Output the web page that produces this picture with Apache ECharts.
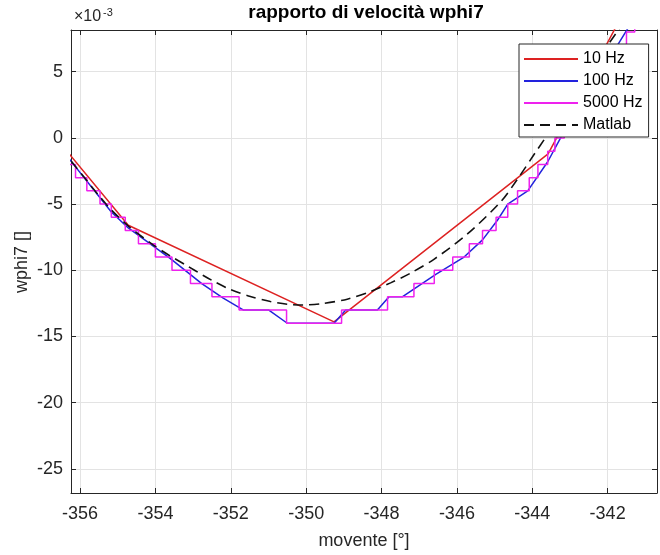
<!DOCTYPE html>
<html><head><meta charset="utf-8">
<script src="https://cdn.jsdelivr.net/npm/echarts@6/dist/echarts.min.js"></script>
<style>html,body{margin:0;padding:0;background:#fff}#c{width:660px;height:555px}</style>
</head><body><div id="c"></div>
<script>
// ---- data (values in units of 1e-3) ----
const xTicks = [-356, -354, -352, -350, -348, -346, -344, -342];
const yTicks = [-25, -20, -15, -10, -5, 0, 5];
const xRange = [-356.24, -340.69];
const yRange = [-26.82, 8.15];

const seriesNames = ['10 Hz', '100 Hz', '5000 Hz', 'Matlab'];

const redX = [-360.13, -354.72, -349.26, -343.58, -338.0];
const redY = [12.0, -6.6, -13.9, -1.2, 28.5];

const blueX = [-356.45, -355.17, -354.72, -353.61, -352.77, -352.20, -351.66, -350.99, -350.50, -349.26, -348.95, -348.11, -347.80, -347.45, -346.56, -345.81, -345.32, -344.92, -344.65, -344.12, -343.59, -343.23, -341.50, -340.90];
const blueY = [-1.0, -5.6, -6.8, -9.1, -11.0, -12.1, -13, -13, -14, -14, -13, -13, -12, -12, -10.3, -9.0, -7.7, -6.2, -5.0, -4.0, -1.8, 0.1, 8.1, 10.9];

const magX = [-356.5, -356.12, -355.82, -355.47, -355.17, -354.80, -354.45, -354.00, -353.56, -353.07, -352.50, -351.78, -350.52, -349.06, -347.84, -347.14, -346.60, -346.11, -345.67, -345.32, -344.96, -344.65, -344.39, -344.08, -343.85, -343.59, -343.40, -343.15, -342.90, -342.65, -342.40, -342.17, -341.95, -341.72, -341.50, -341.28, -340.5];
const magY = [-2, -3, -4, -5, -6, -7, -8, -9, -10, -11, -12, -13, -14, -13, -12, -11, -10, -9, -8, -7, -6, -5, -4, -3, -2, -1, 0, 1, 2, 3, 4, 5, 6, 7, 8, 9, 9];

const matX = [-356.5, -356.19, -355.8, -355.5, -355.17, -354.7, -354.06, -353.61, -353.17, -352.73, -352.42, -352.01, -351.48, -350.95, -350.5, -350.1, -349.62, -348.91, -348.29, -347.76, -347.22, -346.60, -345.72, -344.83, -344.39, -343.94, -343.63, -343.0, -342.5, -341.95, -341.5];
const matY = [-0.8, -1.91, -3.3, -4.35, -5.44, -6.7, -8.08, -8.91, -9.64, -10.39, -10.88, -11.45, -11.98, -12.36, -12.56, -12.62, -12.53, -12.18, -11.6, -10.95, -10.2, -9.15, -7.25, -4.8, -3.1, -1.2, 0.1, 2.8, 4.9, 7.2, 9.0];

const zip = (a, b) => a.map((v, i) => [v, b[i]]);
const FONT = '"Liberation Sans", Arial, Helvetica, sans-serif';
const TXT = '#262626';
const near = (arr, v) => arr.some(t => Math.abs(t - v) < 1e-6);

const chart = echarts.init(document.getElementById('c'), null, {renderer: 'canvas'});

const axisCommon = {
  axisLine: {show: true, onZero: false, lineStyle: {color: TXT, width: 1}},
  axisTick: {show: true, inside: true, length: 5, lineStyle: {color: TXT, width: 1}},
};

chart.setOption({
  animation: false,
  backgroundColor: '#fff',
  grid: {left: 71, right: 3, top: 30, bottom: 62, containLabel: false},
  xAxis: [
    Object.assign({
      type: 'value', position: 'bottom', min: xRange[0], max: xRange[1],
      minInterval: 2, maxInterval: 2,
      axisLabel: {show: true, margin: 12, color: TXT, fontSize: 18, fontFamily: FONT,
        showMinLabel: false, showMaxLabel: false,
        formatter: v => near(xTicks, v) ? String(Math.round(v)) : ''},
      splitLine: {show: true, lineStyle: {color: '#e3e3e3', width: 1}}
    }, axisCommon),
    Object.assign({
      type: 'value', position: 'top', min: xRange[0], max: xRange[1],
      minInterval: 2, maxInterval: 2,
      axisLabel: {show: false}, splitLine: {show: false}
    }, axisCommon)
  ],
  yAxis: [
    Object.assign({
      type: 'value', position: 'left', min: yRange[0], max: yRange[1],
      minInterval: 5, maxInterval: 5,
      axisLabel: {show: true, margin: 8, color: TXT, fontSize: 18, fontFamily: FONT,
        showMinLabel: false, showMaxLabel: false,
        formatter: v => near(yTicks, v) ? String(Math.round(v)) : ''},
      splitLine: {show: true, lineStyle: {color: '#e3e3e3', width: 1}}
    }, axisCommon),
    Object.assign({
      type: 'value', position: 'right', min: yRange[0], max: yRange[1],
      minInterval: 5, maxInterval: 5,
      axisLabel: {show: false}, splitLine: {show: false}
    }, axisCommon)
  ],
  legend: {
    orient: 'vertical', left: 519, top: 44,
    data: seriesNames,
    backgroundColor: '#fff', borderColor: TXT, borderWidth: 1, borderRadius: 0,
    padding: [7, 6, 4, 4],
    itemWidth: 54, itemHeight: 16, itemGap: 6,
    itemStyle: {opacity: 0},
    textStyle: {color: '#000', fontSize: 16, fontFamily: FONT, lineHeight: 16},
    selectedMode: false
  },
  series: [
    {name: seriesNames[0], type: 'line', data: zip(redX, redY), symbol: 'none', clip: true,
      lineStyle: {color: '#dd2222', width: 1.5}, itemStyle: {color: '#dd2222'}},
    {name: seriesNames[1], type: 'line', data: zip(blueX, blueY), symbol: 'none', clip: true,
      lineStyle: {color: '#2222dd', width: 1.5}, itemStyle: {color: '#2222dd'}},
    {name: seriesNames[2], type: 'line', data: zip(magX, magY), symbol: 'none', clip: true, step: 'end',
      lineStyle: {color: '#ee22ee', width: 1.5}, itemStyle: {color: '#ee22ee'}},
    {name: seriesNames[3], type: 'line', data: zip(matX, matY), symbol: 'none', clip: true, smooth: 0.3,
      lineStyle: {color: '#111', width: 1.6, type: [10, 6]}, itemStyle: {color: '#111'}}
  ],
  graphic: [
    {type: 'text', x: 366, y: 13, style: {text: 'rapporto di velocità wphi7', align: 'center', verticalAlign: 'middle',
      font: 'bold 19px ' + FONT, fill: '#000'}},
    {type: 'text', x: 74, y: 25, style: {text: '×10', align: 'left', verticalAlign: 'bottom',
      font: '16px ' + FONT, fill: TXT}},
    {type: 'text', x: 103, y: 18, style: {text: '-3', align: 'left', verticalAlign: 'bottom',
      font: '11px ' + FONT, fill: TXT}},
    {type: 'text', x: 364, y: 541, style: {text: 'movente [°]', align: 'center', verticalAlign: 'middle',
      font: '18px ' + FONT, fill: TXT}},
    {type: 'text', x: 22, y: 262, rotation: Math.PI / 2, style: {text: 'wphi7 []', align: 'center', verticalAlign: 'middle',
      font: '18px ' + FONT, fill: TXT}}
  ]
});
</script>
</body></html>
